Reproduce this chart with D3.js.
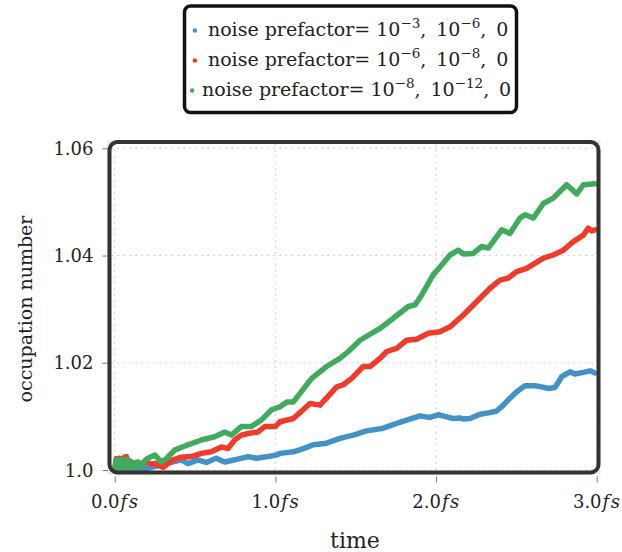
<!DOCTYPE html>
<html>
<head>
<meta charset="utf-8">
<script src="https://cdn.jsdelivr.net/npm/d3@7"></script>
<style>
  html, body { margin: 0; padding: 0; background: #fff; }
  svg { display: block; }
</style>
</head>
<body>
<svg id="chart" width="622" height="552"></svg>
<script>
// ---- data: occupation number vs time (fs) for three noise prefactor settings ----
const timeBlue = [0, 0.06, 0.12, 0.17, 0.228, 0.290, 0.363, 0.415, 0.456, 0.518, 0.570, 0.632, 0.685, 0.747,
  0.830, 0.881, 0.954, 1.006, 1.029, 1.112, 1.174, 1.236, 1.319, 1.402, 1.485, 1.568, 1.672, 1.755, 1.817,
  1.900, 1.962, 2.014, 2.066, 2.107, 2.149, 2.170, 2.211, 2.274, 2.336, 2.377, 2.419, 2.460, 2.502, 2.554,
  2.616, 2.658, 2.699, 2.741, 2.782, 2.834, 2.865, 2.917, 2.958, 2.990];
const occBlue = [1.0000, 0.9999, 1.0000, 1.0000, 1.0005, 1.0009, 1.0015, 1.0019, 1.0012, 1.0019, 1.0014, 1.0022,
  1.0015, 1.0019, 1.0025, 1.0022, 1.0025, 1.0028, 1.0031, 1.0034, 1.0040, 1.0047, 1.0050, 1.0059, 1.0065,
  1.0073, 1.0078, 1.0087, 1.0093, 1.0101, 1.0098, 1.0103, 1.0099, 1.0096, 1.0097, 1.0095, 1.0096, 1.0104,
  1.0107, 1.0110, 1.0121, 1.0134, 1.0146, 1.0157, 1.0157, 1.0155, 1.0152, 1.0154, 1.0174, 1.0183, 1.0179,
  1.0182, 1.0185, 1.0181];

const timeRed = [0, 0.01, 0.02, 0.03, 0.045, 0.06, 0.073, 0.085, 0.10, 0.12, 0.14, 0.17, 0.20, 0.23, 0.25, 0.270,
  0.301, 0.363, 0.415, 0.477, 0.539, 0.601, 0.664, 0.705, 0.747, 0.788, 0.830, 0.892, 0.934, 1.000, 1.029,
  1.112, 1.216, 1.278, 1.382, 1.423, 1.475, 1.547, 1.589, 1.651, 1.693, 1.755, 1.817, 1.879, 1.952, 2.024,
  2.087, 2.170, 2.263, 2.336, 2.398, 2.450, 2.502, 2.564, 2.668, 2.730, 2.792, 2.855, 2.917, 2.948, 2.969, 2.990];
const occRed = [1.0000, 1.0021, 1.0008, 1.0022, 1.0010, 1.0024, 1.0025, 1.0012, 1.0016, 1.0008, 1.0014, 1.0010,
  1.0014, 1.0011, 1.0012, 1.0009, 1.0005, 1.0019, 1.0024, 1.0025, 1.0031, 1.0034, 1.0043, 1.0040, 1.0056,
  1.0065, 1.0068, 1.0071, 1.0081, 1.0081, 1.0090, 1.0096, 1.0124, 1.0121, 1.0155, 1.0159, 1.0171, 1.0193,
  1.0193, 1.0208, 1.0221, 1.0227, 1.0242, 1.0244, 1.0255, 1.0258, 1.0267, 1.0289, 1.0317, 1.0339, 1.0354,
  1.0358, 1.0370, 1.0376, 1.0395, 1.0401, 1.0410, 1.0426, 1.0438, 1.0451, 1.0446, 1.0448];

const timeGreen = [0, 0.008, 0.016, 0.024, 0.032, 0.040, 0.048, 0.056, 0.064, 0.072, 0.080, 0.088, 0.093, 0.101,
  0.110, 0.120, 0.130, 0.145, 0.155, 0.165, 0.175, 0.190, 0.207, 0.249, 0.290, 0.321, 0.373, 0.456, 0.539,
  0.622, 0.685, 0.726, 0.788, 0.850, 0.912, 0.975, 1.029, 1.071, 1.112, 1.226, 1.319, 1.402, 1.454, 1.527,
  1.651, 1.734, 1.827, 1.869, 1.910, 1.952, 1.982, 2.034, 2.087, 2.139, 2.170, 2.232, 2.284, 2.325, 2.409,
  2.460, 2.523, 2.554, 2.606, 2.668, 2.730, 2.813, 2.876, 2.917, 2.990];
const occGreen = [1.0000, 1.0018, 1.0004, 1.0019, 1.0005, 1.0020, 1.0006, 1.0019, 1.0004, 1.0020, 1.0005, 1.0018,
  1.0014, 1.0006, 1.0012, 1.0004, 1.0014, 1.0015, 1.0006, 1.0013, 1.0010, 1.0018, 1.0022, 1.0028, 1.0015,
  1.0021, 1.0037, 1.0047, 1.0056, 1.0062, 1.0071, 1.0065, 1.0081, 1.0081, 1.0093, 1.0112, 1.0118, 1.0127,
  1.0127, 1.0171, 1.0193, 1.0208, 1.0221, 1.0242, 1.0264, 1.0283, 1.0305, 1.0308, 1.0326, 1.0348, 1.0364,
  1.0382, 1.0401, 1.0410, 1.0403, 1.0404, 1.0417, 1.0414, 1.0448, 1.0441, 1.0470, 1.0476, 1.0470, 1.0497,
  1.0507, 1.0532, 1.0515, 1.0532, 1.0534];

const xTicks = [0, 1, 2, 3];
const xTickLabels = ["0.0", "1.0", "2.0", "3.0"];
const xTickUnit = "fs";
const yTicks = [1.0, 1.02, 1.04, 1.06];
const yTickLabels = ["1.0", "1.02", "1.04", "1.06"];

// legend entries: two exponents per row
const legendExp1 = ["\u22123", "\u22126", "\u22128"];
const legendExp2 = ["\u22126", "\u22128", "\u221212"];
const seriesColors = ["#4292c6", "#ef3b2c", "#41ab5d"];

const xLabel = "time";
const yLabel = "occupation number";

const SERIF = "'DejaVu Serif', 'Liberation Serif', serif";

// ---- layout ----
const svg = d3.select("#chart");
const frame = { left: 109.5, right: 598.5, top: 142, bottom: 472.5 };

const x = d3.scaleLinear().domain([0, 3]).range([114.7, 596.7]);
const y = d3.scaleLinear().domain([1.0, 1.06]).range([470, 148.3]);

// axis background (visible only at the corners behind the rounded frame)
svg.append("rect")
  .attr("x", frame.left - 2).attr("y", frame.top - 2)
  .attr("width", frame.right - frame.left + 4).attr("height", frame.bottom - frame.top + 4)
  .attr("fill", "#ebebeb");
svg.append("rect")
  .attr("x", frame.left).attr("y", frame.top)
  .attr("width", frame.right - frame.left).attr("height", frame.bottom - frame.top)
  .attr("rx", 8).attr("fill", "#fff");

// dotted grid
const grid = svg.append("g").attr("stroke", "#c4c4c4").attr("stroke-width", 1)
  .attr("stroke-dasharray", "1.5,4.5");
grid.selectAll("line.h").data(yTicks).join("line").attr("class", "h")
  .attr("x1", frame.left + 2).attr("x2", frame.right - 2)
  .attr("y1", d => y(d)).attr("y2", d => y(d));
grid.selectAll("line.v").data(xTicks).join("line").attr("class", "v")
  .attr("y1", frame.top + 2).attr("y2", frame.bottom - 2)
  .attr("x1", d => x(d)).attr("x2", d => x(d));

// series lines
const series = [
  { t: timeBlue, v: occBlue, color: seriesColors[0] },
  { t: timeRed, v: occRed, color: seriesColors[1] },
  { t: timeGreen, v: occGreen, color: seriesColors[2] }
];
const line = d3.line().x(d => x(d[0])).y(d => y(d[1]));
svg.append("g").selectAll("path").data(series).join("path")
  .attr("d", s => line(s.t.map((t, i) => [t, s.v[i]])))
  .attr("fill", "none")
  .attr("stroke", s => s.color)
  .attr("stroke-width", 5.5)
  .attr("stroke-linejoin", "round")
  .attr("stroke-linecap", "round");

// frame
svg.append("rect")
  .attr("x", frame.left).attr("y", frame.top)
  .attr("width", frame.right - frame.left).attr("height", frame.bottom - frame.top)
  .attr("rx", 8).attr("fill", "none").attr("stroke", "#333").attr("stroke-width", 4);

// y axis
const yAxis = svg.append("g").attr("transform", "translate(108,0)")
  .call(d3.axisLeft(y).tickValues(yTicks).tickFormat((d, i) => yTickLabels[i]).tickSize(5.5).tickPadding(9));
yAxis.attr("font-family", SERIF);
yAxis.select(".domain").remove();
yAxis.selectAll(".tick line").attr("stroke", "#777");
yAxis.selectAll(".tick text").attr("font-size", 18).attr("fill", "#222")
  .attr("font-family", SERIF).attr("dy", "0.34em");

// x axis
const xAxis = svg.append("g").attr("transform", "translate(0,476.5)")
  .call(d3.axisBottom(x).tickValues(xTicks).tickFormat((d, i) => xTickLabels[i]).tickSize(6).tickPadding(18));
xAxis.attr("font-family", SERIF);
xAxis.select(".domain").remove();
xAxis.selectAll(".tick line").attr("stroke", "#777");
xAxis.selectAll(".tick text").each(function (d, i) {
  const t = d3.select(this).text(null).attr("font-size", 18).attr("fill", "#222")
    .attr("font-family", SERIF).attr("dy", "0.71em").attr("y", 18.5);
  t.append("tspan").text(xTickLabels[i]);
  t.append("tspan").text(xTickUnit).attr("font-style", "italic").attr("dx", 1).attr("letter-spacing", 1.5);
});

// axis titles
svg.append("text").attr("x", 355).attr("y", 548).attr("text-anchor", "middle")
  .attr("font-family", SERIF).attr("fill", "#222")
  .attr("font-size", 22).text(xLabel);
svg.append("text").attr("transform", "translate(32,309) rotate(-90)").attr("text-anchor", "middle")
  .attr("font-family", SERIF).attr("fill", "#222")
  .attr("font-size", 19).text(yLabel);

// legend
const legend = svg.append("g");
legend.append("rect").attr("x", 184.5).attr("y", 6).attr("width", 332).attr("height", 106.5)
  .attr("rx", 6).attr("fill", "#fff").attr("stroke", "#111").attr("stroke-width", 3.5);
const legendCenter = 350.5;
seriesColors.forEach((c, i) => {
  const row = legend.append("g");
  const base = 36 + i * 30;
  row.append("circle").attr("cx", 0).attr("cy", base - 5.5).attr("r", 2.2).attr("fill", c);
  const txt = row.append("text").attr("x", i === 2 ? 10 : 13).attr("y", base)
    .attr("font-family", SERIF).attr("fill", "#222").attr("font-size", 19);
  txt.append("tspan").text("noise prefactor= 10");
  txt.append("tspan").text(legendExp1[i]).attr("font-size", 13.5).attr("dy", -8.5);
  txt.append("tspan").text(",\u2009 10").attr("dy", 8.5);
  txt.append("tspan").text(legendExp2[i]).attr("font-size", 13.5).attr("dy", -8.5);
  txt.append("tspan").text(",\u2009 0").attr("dy", 8.5);
  const bb = row.node().getBBox();
  row.attr("transform", `translate(${legendCenter - (bb.x + bb.width / 2)},0)`);
});
</script>
</body>
</html>
